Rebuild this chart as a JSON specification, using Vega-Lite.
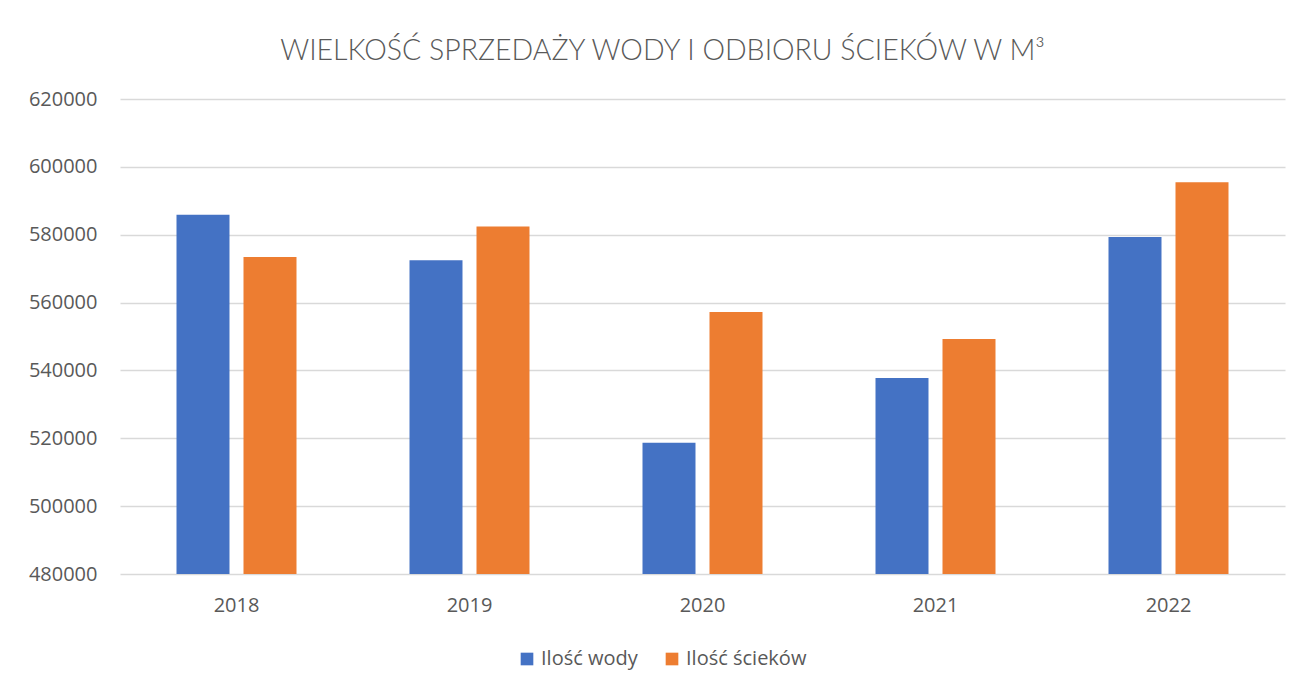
{
  "$schema": "https://vega.github.io/schema/vega-lite/v6.json",
  "width": 1165,
  "height": 475,
  "autosize": {"type": "none"},
  "padding": {"left": 120, "top": 99, "right": 19, "bottom": 114},
  "background": "white",
  "title": {
    "text": "WIELKOŚĆ SPRZEDAŻY WODY I ODBIORU ŚCIEKÓW W M³",
    "font": "Lato",
    "fontWeight": 300,
    "fontSize": 28.5,
    "color": "#595959",
    "anchor": "middle",
    "dx": -40,
    "offset": 24
  },
  "data": {
    "values": [
      {"rok": "2018", "seria": "Ilość wody", "wartosc": 585900},
      {"rok": "2018", "seria": "Ilość ścieków", "wartosc": 573400},
      {"rok": "2019", "seria": "Ilość wody", "wartosc": 572500},
      {"rok": "2019", "seria": "Ilość ścieków", "wartosc": 582450},
      {"rok": "2020", "seria": "Ilość wody", "wartosc": 518700},
      {"rok": "2020", "seria": "Ilość ścieków", "wartosc": 557230},
      {"rok": "2021", "seria": "Ilość wody", "wartosc": 537760},
      {"rok": "2021", "seria": "Ilość ścieków", "wartosc": 549260},
      {"rok": "2022", "seria": "Ilość wody", "wartosc": 579320},
      {"rok": "2022", "seria": "Ilość ścieków", "wartosc": 595490}
    ]
  },
  "mark": {"type": "bar", "clip": true},
  "encoding": {
    "x": {
      "field": "rok",
      "type": "nominal",
      "scale": {"paddingInner": 0.485, "paddingOuter": 0.2425},
      "axis": {
        "title": null,
        "labelAngle": 0,
        "labelFont": "Open Sans",
        "labelFontSize": 20,
        "labelColor": "#595959",
        "labelPadding": 21,
        "ticks": false,
        "domain": false
      }
    },
    "xOffset": {
      "field": "seria",
      "type": "nominal",
      "sort": ["Ilość wody", "Ilość ścieków"],
      "scale": {"paddingInner": 0.209, "paddingOuter": 0}
    },
    "y": {
      "field": "wartosc",
      "type": "quantitative",
      "scale": {"domain": [480000, 620000], "nice": false, "zero": false},
      "axis": {
        "title": null,
        "values": [480000, 500000, 520000, 540000, 560000, 580000, 600000, 620000],
        "format": "d",
        "labelFont": "Open Sans",
        "labelFontSize": 20,
        "labelColor": "#595959",
        "labelPadding": 23,
        "ticks": false,
        "domain": false,
        "gridColor": "#d9d9d9",
        "gridWidth": 1.5
      }
    },
    "color": {
      "field": "seria",
      "type": "nominal",
      "sort": ["Ilość wody", "Ilość ścieków"],
      "scale": {"domain": ["Ilość wody", "Ilość ścieków"], "range": ["#4472C4", "#ED7D31"]},
      "legend": {
        "title": null,
        "orient": "none",
        "direction": "horizontal",
        "legendX": 397,
        "legendY": 550,
        "symbolType": "square",
        "symbolSize": 160,
        "symbolStrokeWidth": 0,
        "labelFont": "Open Sans",
        "labelFontSize": 20,
        "labelColor": "#595959",
        "columnPadding": 24,
        "labelOffset": 4
      }
    }
  },
  "config": {
    "view": {"stroke": null}
  }
}
